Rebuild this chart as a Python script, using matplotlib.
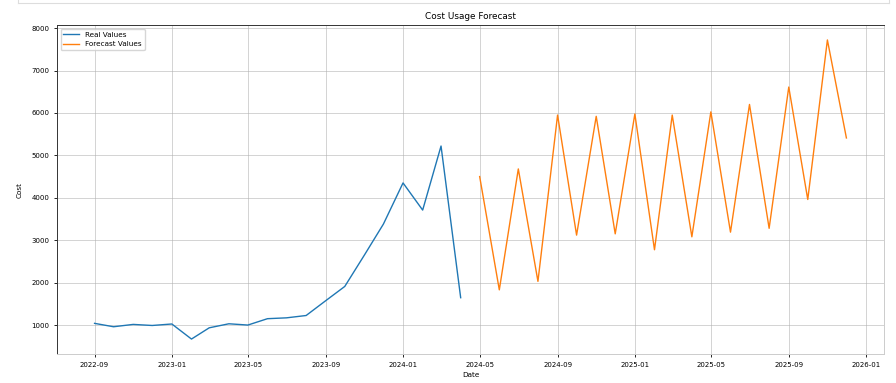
import numpy as np
import pandas as pd
import matplotlib
matplotlib.use("Agg")
import matplotlib.pyplot as plt
from matplotlib.lines import Line2D

# real values (monthly)
real_dates = pd.date_range("2022-09-01", "2024-04-01", freq="MS")
real_cost = [1040, 960, 1015, 990, 1025, 670, 935, 1030, 1000, 1150,
             1170, 1225, 1575, 1910, 2650, 3380, 4350, 3710, 5220, 1645]

# forecast values (monthly)
fc_dates = pd.date_range("2024-05-01", "2025-12-01", freq="MS")
fc_cost = [4500, 1830, 4680, 2030, 5950, 3120, 5920, 3150, 5975, 2775,
           5950, 3080, 6025, 3190, 6200, 3280, 6610, 3960, 7720, 5410]

fig = plt.figure(figsize=(8.96, 3.83), dpi=100)
ax = fig.add_axes([0.0636, 0.0757, 0.9230, 0.8590])

ax.plot(real_dates, real_cost, color="#1f77b4", lw=1.0, label="Real Values")
ax.plot(fc_dates, fc_cost, color="#ff7f0e", lw=1.0, label="Forecast Values")

ax.set_title("Cost Usage Forecast", fontsize=6.4, pad=4)
ax.set_xlabel("Date", fontsize=5.2, labelpad=3)
ax.set_ylabel("Cost", fontsize=5.2, labelpad=6)
ax.tick_params(labelsize=5, length=2.5, pad=3, width=0.6)
ax.grid(True, color="#b0b0b0", lw=0.7, alpha=0.55)
ax.legend(loc="upper left", fontsize=5.2, framealpha=0.8, handlelength=2.2)

ax.spines["bottom"].set_color("#cccccc")
ax.spines["right"].set_color("#cccccc")
ax.spines["top"].set_color("#333333")
ax.spines["left"].set_color("#333333")
for s in ax.spines.values():
    s.set_linewidth(0.7)

# notebook cell border at the top
fig.add_artist(Line2D([18 / 896, 889 / 896], [1 - 2.5 / 383, 1 - 2.5 / 383],
                      color="#dddddd", lw=0.8, transform=fig.transFigure))
fig.add_artist(Line2D([889 / 896, 889 / 896], [1 - 2.5 / 383, 1.0],
                      color="#dddddd", lw=0.8, transform=fig.transFigure))
fig.add_artist(Line2D([18 / 896, 18 / 896], [1 - 2.5 / 383, 1.0],
                      color="#dddddd", lw=0.8, transform=fig.transFigure))

fig.savefig("out.png", dpi=100)
